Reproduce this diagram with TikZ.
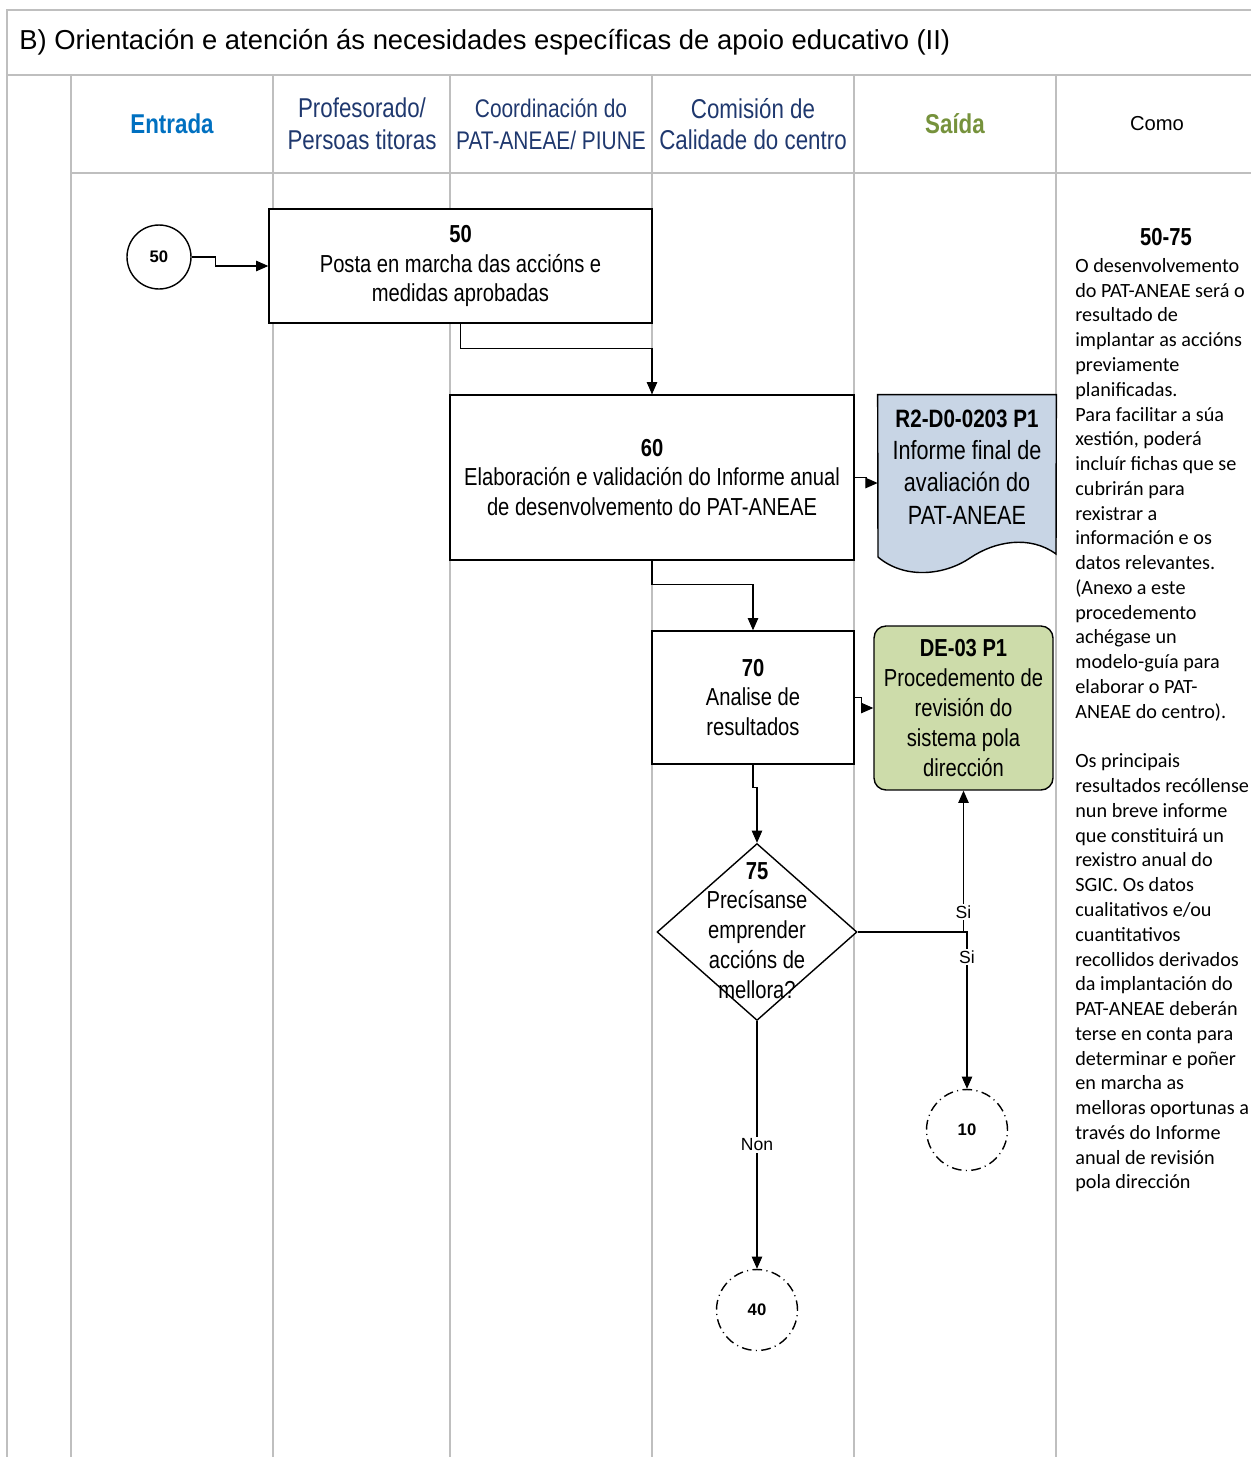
\documentclass[tikz,border=0pt]{standalone}
\usepackage{fontspec}
\setmainfont{Liberation Sans}
\newfontfamily\narrowfont[FakeStretch=0.82]{Liberation Sans}
\newfontfamily\notefont{Carlito}
\usetikzlibrary{arrows.meta,shapes.geometric}
\definecolor{lanegray}{RGB}{191,191,191}
\definecolor{inblue}{RGB}{0,112,192}
\definecolor{hdnavy}{RGB}{31,56,110}
\definecolor{outgreen}{RGB}{118,146,60}
\definecolor{docblue}{RGB}{200,213,229}
\definecolor{procgreen}{RGB}{205,220,170}

\begin{document}
\begin{tikzpicture}[x=0.02cm, y=-0.02cm,
  lane/.style={draw=lanegray, line width=0.6pt},
  hd/.style={align=center, font=\narrowfont\fontsize{15.5}{18}\selectfont, text=hdnavy},
  stepbox/.style={draw, fill=white, line width=0.8pt, align=center, inner sep=0pt, font=\narrowfont\fontsize{14}{17}\selectfont},
  decision/.style={diamond, draw, fill=white, line width=0.8pt, minimum width=4cm, minimum height=3.54cm, inner sep=0pt},
  conn/.style={circle, draw, fill=white, line width=0.8pt, minimum size=1.28cm, inner sep=0pt, font=\bfseries\fontsize{9.5}{11}\selectfont},
  offpage/.style={conn, minimum size=1.62cm, dash pattern=on 5.5pt off 2.5pt on 0.6pt off 2.5pt},
  flow/.style={line width=0.6pt, -{Triangle[length=7pt,width=6pt]}},
  lbl/.style={fill=white, inner sep=1pt, font=\fontsize{10}{12}\selectfont}]
  \useasboundingbox (0,0) rectangle (1251,1457);

  \draw[lane] (7,1457) -- (7,10) -- (1251,10);
  \draw[lane] (7,75) -- (1251,75);
  \draw[lane] (71,173) -- (1251,173);
  \foreach \x in {71,273,450,652,854,1056}
    \draw[lane] (\x,75) -- (\x,1457);

  \node[anchor=west, inner sep=0pt, font=\fontsize{15.6}{18}\selectfont] (title) at (19,42) {B) Orientación e atención ás necesidades específicas de apoio educativo (II)};

  \node[hd, text=inblue, font=\narrowfont\bfseries\fontsize{15.5}{18}\selectfont] (hin) at (172,124) {Entrada};
  \node[hd] (hprof) at (362,124) {Profesorado/\\Persoas titoras};
  \node[hd, font=\narrowfont\fontsize{14.5}{18}\selectfont] (hcoord) at (551,124) {Coordinación do\\PAT-ANEAE/ PIUNE};
  \node[hd] (hcom) at (753,124) {Comisión de\\Calidade do centro};
  \node[hd, text=outgreen, font=\narrowfont\bfseries\fontsize{15.5}{18}\selectfont] (hout) at (955,124) {Saída};
  \node[font=\fontsize{11.5}{14}\selectfont] (hcomo) at (1157,124) {Como};

  \node[conn] (c50) at (159,257) {50};
  \node[stepbox, minimum width=7.66cm, minimum height=2.28cm] (b50) at (460.5,266) {\textbf{50}\\Posta en marcha das accións e\\medidas aprobadas};
  \node[stepbox, minimum width=8.08cm, minimum height=3.3cm] (b60) at (652,477.5) {\textbf{60}\\Elaboración e validación do Informe anual\\de desenvolvemento do PAT-ANEAE};
  \node[minimum width=3.56cm, minimum height=3.52cm, inner sep=0pt] (doc) at (967,483) {};
  \draw[fill=docblue, line width=0.8pt] (doc.north west) -- (doc.north east) -- (1056,554)
    .. controls (1030,535) and (995,541) .. (970,558)
    .. controls (945,575) and (905,580) .. (878,557) -- cycle;
  \node[align=center, font=\narrowfont\fontsize{15}{18.4}\selectfont] (doctext) at (967,467) {{\bfseries\fontsize{14.3}{18.4}\selectfont R2-D0-0203 P1}\\Informe final de\\avaliación do\\PAT-ANEAE};
  \node[stepbox, minimum width=4.04cm, minimum height=2.66cm] (b70) at (753,697.5) {\textbf{70}\\Analise de\\resultados};
  \node[stepbox, fill=procgreen, rounded corners=0.24cm, minimum width=3.58cm, minimum height=3.28cm] (g) at (963.5,708) {\textbf{DE-03 P1}\\Procedemento de\\revisión do\\sistema pola\\dirección};
  \node[decision] (d75) at (757,932) {};
  \node[align=center, font=\narrowfont\fontsize{14}{17}\selectfont] (d75text) at (757,930.5) {\textbf{75}\\Precísanse\\emprender\\accións de\\mellora?};
  \node[offpage] (c10) at (967,1130) {10};
  \node[offpage] (c40) at (757,1310) {40};

  \draw[flow] (c50.east) -- ++(24,0) |- (b50.west);
  \draw[flow] (b50.south) -- ++(0,25) -| (b60.north);
  \draw[flow] (b60.east) -- ++(12,0) |- (doc.west);
  \draw[flow] (b60.south) -- ++(0,24) -| (b70.north);
  \draw[flow] (b70.east) -- ++(7,0) |- (g.west);
  \draw[flow] (b70.south) -- ++(0,23) -| (d75.north);
  \draw[flow] (d75.east) -| node[lbl, pos=0.57] {Si} (g.south);
  \draw[flow] (d75.east) -| node[lbl, pos=0.58] {Si} (c10.north);
  \draw[flow] (d75.south) -- node[lbl] {Non} (c40.north);

  \node[font=\narrowfont\bfseries\fontsize{14}{17}\selectfont] (rng) at (1166,237) {50-75};
  \node[anchor=north west, align=left, inner sep=0pt, font=\notefont\fontsize{11.5}{14.1}\selectfont] (como) at (1075,258) {O desenvolvemento\\do PAT-ANEAE será o\\resultado de\\implantar as accións\\previamente\\planificadas.\\Para facilitar a súa\\xestión, poderá\\incluír fichas que se\\cubrirán para\\rexistrar a\\información e os\\datos relevantes.\\(Anexo a este\\procedemento\\achégase un\\modelo-guía para\\elaborar o PAT-\\ANEAE do centro).\\[14.1pt]Os principais\\resultados recóllense\\nun breve informe\\que constituirá un\\rexistro anual do\\SGIC. Os datos\\cualitativos e/ou\\cuantitativos\\recollidos derivados\\da implantación do\\PAT-ANEAE deberán\\terse en conta para\\determinar e poñer\\en marcha as\\melloras oportunas a\\través do Informe\\anual de revisión\\pola dirección};
\end{tikzpicture}
\end{document}
